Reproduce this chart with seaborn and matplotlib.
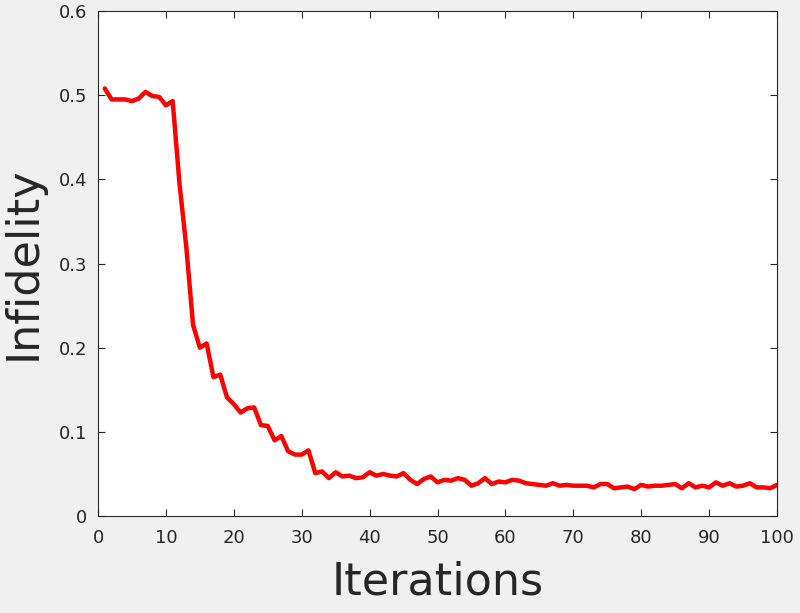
import numpy as np
import pandas as pd
import matplotlib
matplotlib.use("Agg")
import matplotlib.pyplot as plt
import seaborn as sns

iterations = list(range(1, 101))
infidelity = [
    0.508, 0.495, 0.495, 0.495, 0.493, 0.496, 0.504, 0.499, 0.498, 0.488,
    0.493, 0.395, 0.320, 0.227, 0.200, 0.205, 0.165, 0.168, 0.141, 0.133,
    0.123, 0.128, 0.129, 0.108, 0.107, 0.090, 0.095, 0.077, 0.073, 0.073,
    0.078, 0.051, 0.053, 0.045, 0.052, 0.047, 0.048, 0.045, 0.046, 0.052,
    0.048, 0.050, 0.048, 0.047, 0.051, 0.043, 0.038, 0.044, 0.047, 0.040,
    0.043, 0.042, 0.045, 0.043, 0.036, 0.039, 0.045, 0.038, 0.041, 0.040,
    0.043, 0.042, 0.039, 0.038, 0.037, 0.036, 0.039, 0.036, 0.037, 0.036,
    0.036, 0.036, 0.034, 0.038, 0.038, 0.033, 0.034, 0.035, 0.032, 0.037,
    0.035, 0.036, 0.036, 0.037, 0.038, 0.033, 0.039, 0.034, 0.036, 0.034,
    0.040, 0.036, 0.039, 0.035, 0.036, 0.039, 0.034, 0.034, 0.033, 0.037,
]
x_ticks = [0, 10, 20, 30, 40, 50, 60, 70, 80, 90, 100]
y_ticks = [0, 0.1, 0.2, 0.3, 0.4, 0.5, 0.6]
y_ticklabels = ["0", "0.1", "0.2", "0.3", "0.4", "0.5", "0.6"]

df = pd.DataFrame({"Iterations": iterations, "Infidelity": infidelity})

sns.set_theme(style="white")
plt.rcParams["font.family"] = ["DejaVu Sans"]

dark = "#262626"
fig = plt.figure(figsize=(8, 6.13), dpi=100, facecolor="#f0f0f0")
ax = fig.add_axes([0.1225, 0.1582, 0.84875, 0.8238])
ax.set_facecolor("white")

sns.lineplot(data=df, x="Iterations", y="Infidelity", ax=ax,
             color="#ff0000", linewidth=3.2)

ax.set_xlim(0, 100)
ax.set_ylim(0, 0.6)
ax.set_xticks(x_ticks)
ax.set_xticklabels([str(t) for t in x_ticks])
ax.set_yticks(y_ticks)
ax.set_yticklabels(y_ticklabels)

ax.tick_params(axis="both", which="both", direction="in", length=5, width=0.8,
               colors=dark, labelsize=13, top=True, right=True,
               bottom=True, left=True)
ax.tick_params(axis="x", pad=9)
ax.tick_params(axis="y", pad=8)
for s in ax.spines.values():
    s.set_visible(True)
    s.set_color(dark)
    s.set_linewidth(0.8)

ax.set_xlabel("Iterations", fontsize=32, color=dark, labelpad=10)
ax.set_ylabel("Infidelity", fontsize=32, color=dark, labelpad=10)
ax.grid(False)

fig.savefig("out.png", dpi=100, facecolor=fig.get_facecolor())
